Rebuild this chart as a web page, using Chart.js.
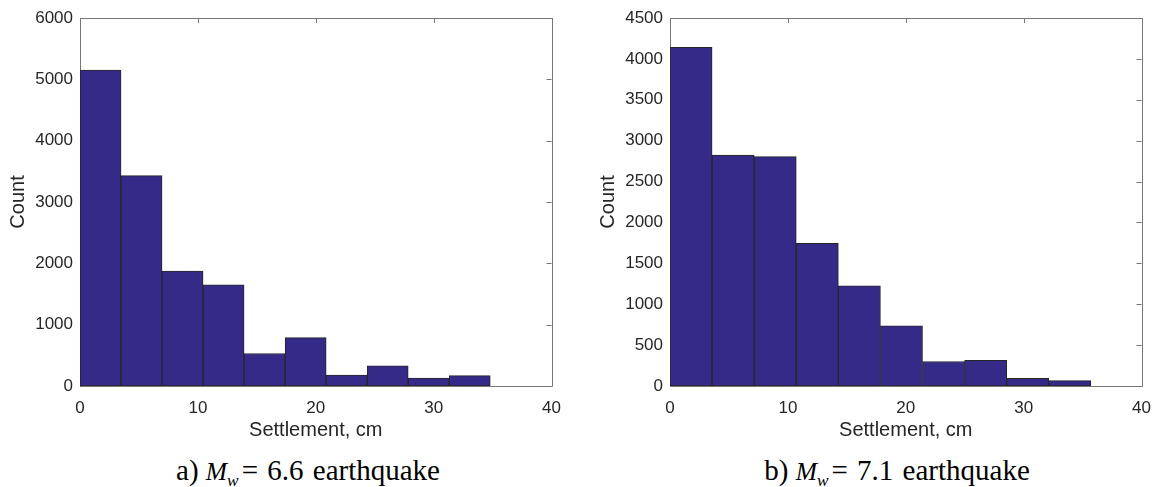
<!DOCTYPE html>
<html>
<head>
<meta charset="utf-8">
<script src="https://cdn.jsdelivr.net/npm/chart.js@4"></script>
<style>
  body { margin: 0; background: #fff; width: 1155px; height: 487px; position: relative; overflow: hidden; }
  .panel { position: absolute; top: 0; width: 573px; height: 445px; }
  .caption { position: absolute; top: 456px; width: 400px; text-align: center; white-space: nowrap;
             font-family: "Liberation Serif", "Times New Roman", serif; font-size: 29px; line-height: 1; color: #000; }
  .caption .mw { font-size: 0.88em; }
  .caption sub { font-size: 0.68em; line-height: 0; }
  .caption .eqs { margin-left: 3px; }
  .caption .num, .caption .eq { margin-left: 2px; }
</style>
</head>
<body>
<div class="panel" style="left:0"><canvas id="chartA"></canvas></div>
<div class="panel" style="left:590px"><canvas id="chartB"></canvas></div>
<div class="caption" style="left:108px">a) <span class="mw"><i>M</i><sub><i>w</i></sub></span><span class="eqs">=</span> <span class="num">6.6</span> <span class="eq">earthquake</span></div>
<div class="caption" style="left:697px">b) <span class="mw"><i>M</i><sub><i>w</i></sub></span><span class="eqs">=</span> <span class="num">7.1</span> <span class="eq">earthquake</span></div>
<script>
// histogram bins (cm) and counts
const settleTicks = [0, 10, 20, 30, 40];
const binCentersA = [1.74, 5.22, 8.70, 12.18, 15.66, 19.14, 22.62, 26.10, 29.58, 33.06];
const countsA = [5150, 3430, 1875, 1650, 530, 790, 180, 330, 130, 170];
const countTicksA = [0, 1000, 2000, 3000, 4000, 5000, 6000];

const binCentersB = [1.785, 5.355, 8.925, 12.495, 16.065, 19.635, 23.205, 26.775, 30.345, 33.915];
const countsB = [4140, 2825, 2805, 1745, 1225, 735, 300, 315, 95, 65];
const countTicksB = [0, 500, 1000, 1500, 2000, 2500, 3000, 3500, 4000, 4500];

const textColor = '#262626';
const sans = '"Liberation Sans", Arial, sans-serif';

// matlab style box with inward ticks on all four sides
const axesBox = {
  id: 'axesBox',
  beforeDatasetsDraw(chart) {
    const { ctx, chartArea: a, scales: { x, y } } = chart;
    const len = 5;
    ctx.save();
    ctx.strokeStyle = '#777';
    ctx.lineWidth = 1;
    ctx.beginPath();
    ctx.rect(Math.round(a.left) + 0.5, Math.round(a.top) + 0.5,
             Math.round(a.right - a.left), Math.round(a.bottom - a.top));
    x.ticks.forEach(t => {
      const px = Math.round(x.getPixelForValue(t.value)) + 0.5;
      ctx.moveTo(px, a.bottom); ctx.lineTo(px, a.bottom - len);
      ctx.moveTo(px, a.top); ctx.lineTo(px, a.top + len);
    });
    y.ticks.forEach(t => {
      const py = Math.round(y.getPixelForValue(t.value)) + 0.5;
      ctx.moveTo(a.left, py); ctx.lineTo(a.left + len, py);
      ctx.moveTo(a.right, py); ctx.lineTo(a.right - len, py);
    });
    ctx.stroke();
    ctx.restore();
  }
};

function makeChart(id, centers, counts, countTicks) {
  return new Chart(document.getElementById(id), {
    type: 'bar',
    data: {
      datasets: [{
        data: centers.map((c, i) => ({ x: c, y: counts[i] })),
        backgroundColor: '#352a87',
        borderColor: '#262626',
        borderWidth: 1,
        borderSkipped: false,
        barPercentage: 1,
        categoryPercentage: 1
      }]
    },
    options: {
      responsive: true,
      maintainAspectRatio: false,
      animation: false,
      layout: { padding: { top: 18, right: 8, left: 0, bottom: 0 } },
      plugins: { legend: { display: false }, tooltip: { enabled: false } },
      scales: {
        x: {
          type: 'linear', offset: false, min: 0, max: 40,
          afterBuildTicks: s => { s.ticks = settleTicks.map(v => ({ value: v })); },
          afterFit: s => { s.height = 445 - 386; },
          grid: { display: false, drawTicks: false },
          border: { display: false },
          ticks: { padding: 12, color: textColor, font: { family: sans, size: 17 },
                   callback: v => String(v) },
          title: { display: true, text: 'Settlement, cm', color: textColor,
                   font: { family: sans, size: 20 }, padding: { top: 0, bottom: 3 } }
        },
        y: {
          min: 0, max: countTicks[countTicks.length - 1],
          afterBuildTicks: s => { s.ticks = countTicks.map(v => ({ value: v })); },
          afterFit: s => { s.width = 80; },
          grid: { display: false, drawTicks: false },
          border: { display: false },
          ticks: { padding: 7, color: textColor, font: { family: sans, size: 17 },
                   callback: v => String(v) },
          title: { display: true, text: 'Count', color: textColor,
                   font: { family: sans, size: 20 }, padding: { top: 6, bottom: 0 } }
        }
      }
    },
    plugins: [axesBox]
  });
}

makeChart('chartA', binCentersA, countsA, countTicksA);
makeChart('chartB', binCentersB, countsB, countTicksB);
</script>
</body>
</html>
